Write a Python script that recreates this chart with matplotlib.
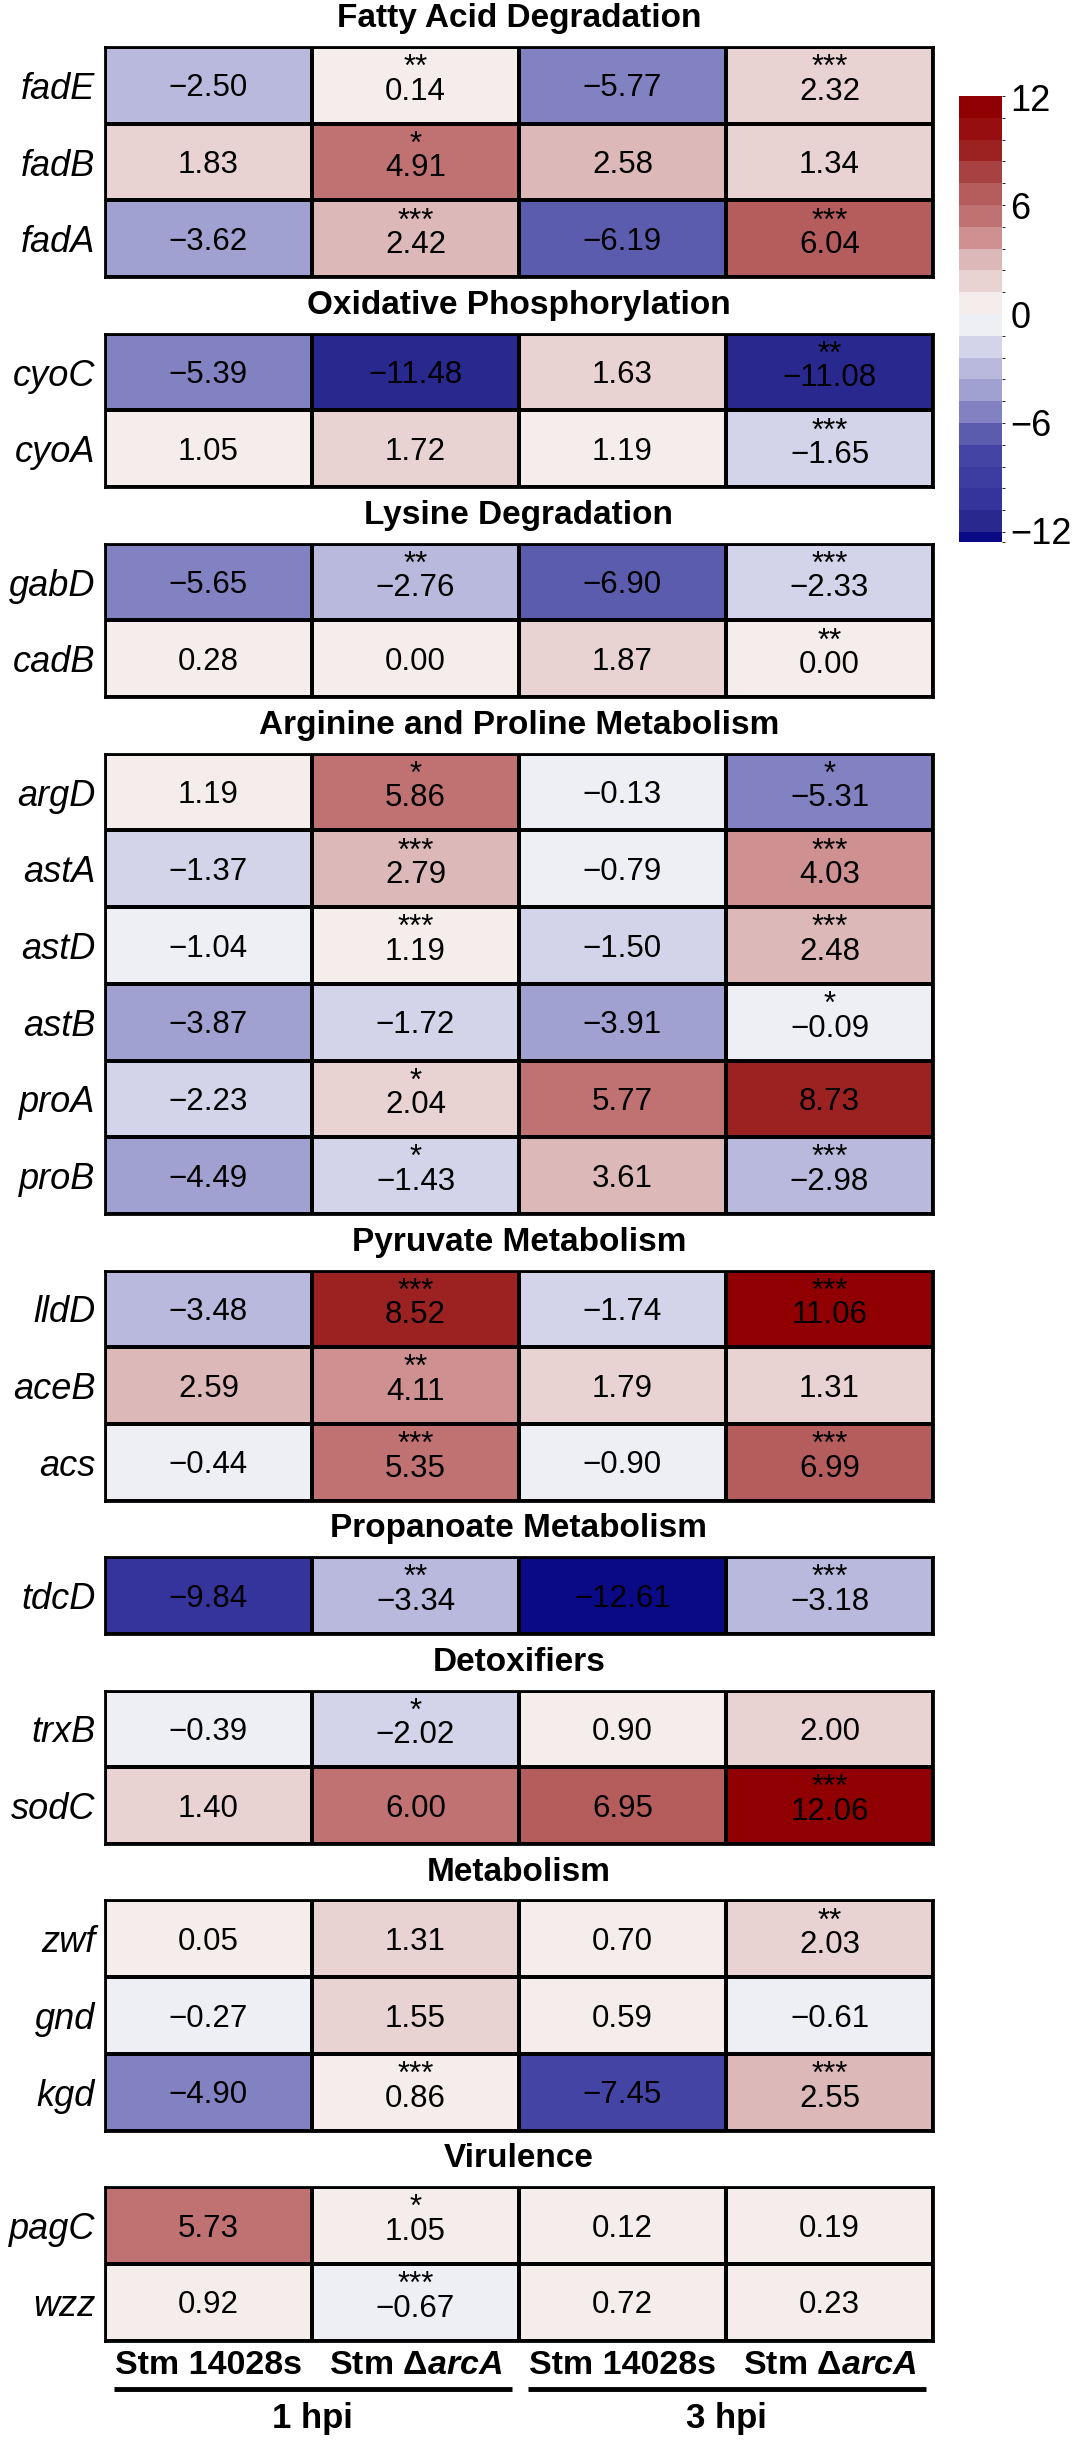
import numpy as np
import matplotlib
matplotlib.use('Agg')
import matplotlib.pyplot as plt
import matplotlib.transforms as mtransforms
from matplotlib.colors import ListedColormap, BoundaryNorm
from matplotlib.colorbar import ColorbarBase

plt.rcParams['font.family'] = ['Liberation Sans', 'DejaVu Sans']
plt.rcParams['mathtext.fontset'] = 'custom'
plt.rcParams['mathtext.it'] = 'Liberation Sans:italic:bold'
plt.rcParams['mathtext.rm'] = 'Liberation Sans:bold'

# --- data (log2 fold change, columns: 1hpi wt, 1hpi arcA, 3hpi wt, 3hpi arcA)
pathways = ["Fatty Acid Degradation", "Oxidative Phosphorylation", "Lysine Degradation",
            "Arginine and Proline Metabolism", "Pyruvate Metabolism", "Propanoate Metabolism",
            "Detoxifiers", "Metabolism", "Virulence"]

genes = [["fadE", "fadB", "fadA"],
         ["cyoC", "cyoA"],
         ["gabD", "cadB"],
         ["argD", "astA", "astD", "astB", "proA", "proB"],
         ["lldD", "aceB", "acs"],
         ["tdcD"],
         ["trxB", "sodC"],
         ["zwf", "gnd", "kgd"],
         ["pagC", "wzz"]]

log2fc = [[[-2.50, 0.14, -5.77, 2.32], [1.83, 4.91, 2.58, 1.34], [-3.62, 2.42, -6.19, 6.04]],
          [[-5.39, -11.48, 1.63, -11.08], [1.05, 1.72, 1.19, -1.65]],
          [[-5.65, -2.76, -6.90, -2.33], [0.28, 0.00, 1.87, 0.00]],
          [[1.19, 5.86, -0.13, -5.31], [-1.37, 2.79, -0.79, 4.03], [-1.04, 1.19, -1.50, 2.48],
           [-3.87, -1.72, -3.91, -0.09], [-2.23, 2.04, 5.77, 8.73], [-4.49, -1.43, 3.61, -2.98]],
          [[-3.48, 8.52, -1.74, 11.06], [2.59, 4.11, 1.79, 1.31], [-0.44, 5.35, -0.90, 6.99]],
          [[-9.84, -3.34, -12.61, -3.18]],
          [[-0.39, -2.02, 0.90, 2.00], [1.40, 6.00, 6.95, 12.06]],
          [[0.05, 1.31, 0.70, 2.03], [-0.27, 1.55, 0.59, -0.61], [-4.90, 0.86, -7.45, 2.55]],
          [[5.73, 1.05, 0.12, 0.19], [0.92, -0.67, 0.72, 0.23]]]

signif = [[["", "**", "", "***"], ["", "*", "", ""], ["", "***", "", "***"]],
          [["", "", "", "**"], ["", "", "", "***"]],
          [["", "**", "", "***"], ["", "", "", "**"]],
          [["", "*", "", "*"], ["", "***", "", "***"], ["", "***", "", "***"],
           ["", "", "", "*"], ["", "*", "", ""], ["", "*", "", "***"]],
          [["", "***", "", "***"], ["", "**", "", ""], ["", "***", "", "***"]],
          [["", "**", "", "***"]],
          [["", "*", "", ""], ["", "", "", "***"]],
          [["", "", "", "**"], ["", "", "", ""], ["", "***", "", "***"]],
          [["", "*", "", ""], ["", "***", "", ""]]]

conditions = ["Stm 14028s", "Stm Δ$\\mathit{arcA}$", "Stm 14028s", "Stm Δ$\\mathit{arcA}$"]
timepoints = ["1 hpi", "3 hpi"]
cbar_ticks = [-12, -6, 0, 6, 12]

# colour bins (from 0 outwards), equal steps of max/10
red_bins = ["#F5ECEC", "#E9D2D2", "#DDB8B8", "#CE9090", "#C07272",
            "#B55C5C", "#A84242", "#9C2222", "#960E10", "#900003"]
blue_bins = ["#EEEEF5", "#D3D3E9", "#B9B9DD", "#A0A0D1", "#8282C3",
             "#5C5CAF", "#4444A5", "#3C3CA1", "#34349C", "#28288F", "#0A0A86"]

all_vals = np.concatenate([np.ravel(b) for b in log2fc])
vmin, vmax = all_vals.min(), all_vals.max()
step = vmax / len(red_bins)
blue_edges = [vmin] + list(-step * np.arange(len(blue_bins) - 1, -1, -1))
red_edges = list(step * np.arange(1, len(red_bins) + 1))
breaks = np.array(blue_edges + red_edges)
cmap = ListedColormap(blue_bins[::-1] + red_bins)
norm = BoundaryNorm(breaks, cmap.N)

# --- layout (pixels)
W, H = 1080, 2442
left, right = 105, 933
top0, row_h, gap = 47, 76.7, 56.6

fig = plt.figure(figsize=(W / 100, H / 100), dpi=100)

y = top0
ax = None
for b, name in enumerate(pathways):
    vals = np.array(log2fc[b])
    n = vals.shape[0]
    h = n * row_h
    ax = fig.add_axes([left / W, 1 - (y + h) / H, (right - left) / W, h / H])
    ax.pcolormesh(np.arange(5), np.arange(n + 1), vals, cmap=cmap, norm=norm,
                  edgecolors='black', linewidth=1.5)
    ax.set_xlim(0, 4)
    ax.set_ylim(n, 0)
    for s in ax.spines.values():
        s.set_linewidth(2)
    ax.set_xticks([])
    ax.set_yticks(np.arange(n) + 0.5)
    ax.set_yticklabels(genes[b], fontstyle='italic', fontsize=26)
    ax.tick_params(axis='y', length=0, pad=7)

    for i in range(n):
        for j in range(4):
            num = f"{vals[i, j]:.2f}".replace('-', '\u2212')
            star = signif[b][i][j]
            if star:
                ax.text(j + 0.5, i + 0.43, star + "\n" + num, ha='center', va='center',
                        fontsize=22.5, linespacing=0.72)
            else:
                ax.text(j + 0.5, i + 0.54, num, ha='center', va='center', fontsize=22.5)

    fig.text((left + right) / 2 / W, 1 - (y - gap / 2) / H, name, ha='center',
             va='center', fontsize=24, fontweight='bold')
    y += h + gap

# condition labels + timepoint bars under the last block
bottom = y - gap
trans = mtransforms.blended_transform_factory(ax.transData, fig.transFigure)
for j, lab in enumerate(conditions):
    ax.text(j + 0.5, 1 - (bottom + 25) / H, lab, transform=trans, ha='center',
            va='center', fontsize=24.5, fontweight='bold')
for k, tp in enumerate(timepoints):
    x0 = 2 * k
    ax.plot([x0 + 0.045, x0 + 1.965], [1 - (bottom + 48) / H] * 2, transform=trans,
            color='black', linewidth=3.5, clip_on=False, solid_capstyle='butt')
    ax.text(x0 + 1, 1 - (bottom + 78) / H, tp, transform=trans, ha='center',
            va='center', fontsize=25, fontweight='bold')

# colour key
cb_top, cb_bot = 96, 542
cax = fig.add_axes([959 / W, 1 - cb_bot / H, 43 / W, (cb_bot - cb_top) / H])
cb = ColorbarBase(cax, cmap=cmap, norm=norm, boundaries=breaks, spacing='proportional',
                  ticks=cbar_ticks)
cb.outline.set_visible(False)
cb.ax.set_yticklabels([str(t).replace('-', '\u2212') for t in cbar_ticks], fontsize=26)
cb.ax.tick_params(length=0, pad=6)

fig.savefig('out.png', dpi=100, facecolor='white')
